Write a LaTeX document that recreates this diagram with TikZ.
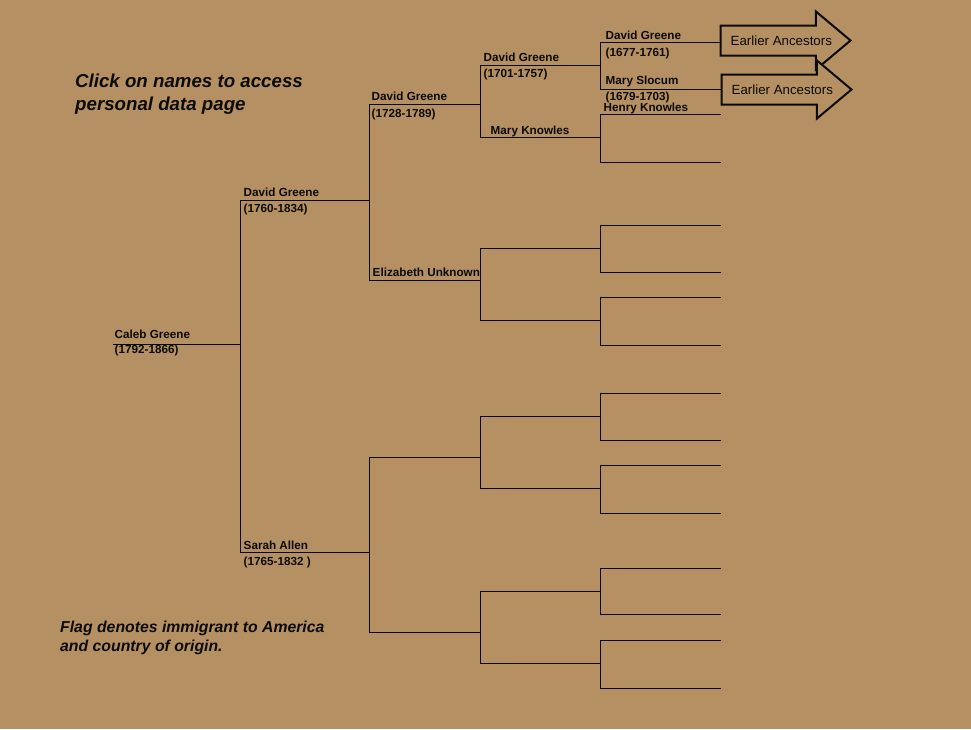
\documentclass[tikz,border=0pt]{standalone}
\usepackage{fontspec}
\setmainfont{Liberation Sans}
\usepackage{xcolor}
\usetikzlibrary{shapes.arrows}
\definecolor{parch}{HTML}{B49062}
\definecolor{ink}{HTML}{0C0A05}
\tikzset{
  pline/.style={draw=ink,line width=1.1pt},
  pname/.style={anchor=base west,inner sep=0pt,text=ink,font=\bfseries\fontsize{11.7}{14}\selectfont},
  pdates/.style={pname},
  note/.style={anchor=base west,inner sep=0pt,text=ink,font=\bfseries\itshape\fontsize{15.8}{19}\selectfont},
  title/.style={note,font=\bfseries\itshape\fontsize{18.7}{22}\selectfont},
  anc/.style={shape=single arrow,draw=ink,line width=2pt,fill=parch,anchor=tail,
    minimum height=130pt,inner xsep=0pt,inner ysep=14pt,
    single arrow head extend=14pt,single arrow tip angle=80},
  anctext/.style={anchor=base west,inner sep=0pt,text=ink,font=\fontsize{13.3}{16}\selectfont},
}
\begin{document}
\begin{tikzpicture}[x=1pt,y=-1pt]
  \fill[parch] (0,0) rectangle (971,729);
  % one line per person, numbered as in an ahnentafel
  \foreach \k/\y in {1/344}{\coordinate (s\k) at (112.5,\y.5); \coordinate (e\k) at (240.5,\y.5);}
  \foreach \k/\y in {2/200,3/552}{\coordinate (s\k) at (240.5,\y.5); \coordinate (e\k) at (369.5,\y.5);}
  \foreach \k/\y in {4/104,5/280,6/457,7/632}{\coordinate (s\k) at (369.5,\y.5); \coordinate (e\k) at (480.5,\y.5);}
  \foreach \k/\y in {8/65,9/137,10/248,11/320,12/416,13/488,14/591,15/663}{
     \coordinate (s\k) at (480.5,\y.5); \coordinate (e\k) at (600.5,\y.5);}
  \foreach \k/\y in {16/42,17/89,18/114,19/162,20/225,21/272,22/297,23/345,
                     24/393,25/440,26/465,27/513,28/568,29/614,30/640,31/688}{
     \coordinate (s\k) at (600.5,\y.5); \coordinate (e\k) at (720.5,\y.5);}
  \draw[pline] (s1) -- (e1);
  \foreach \k [evaluate=\k as \f using int(2*\k), evaluate=\k as \m using int(2*\k+1)] in {1,...,15}
     \draw[pline] (e\f) -- (s\f) -- (s\m) -- (e\m);
  % names and dates
  \node[pname]  (n1) at ([shift={(2,-6)}]s1) {Caleb Greene};
  \node[pdates] (d1) at ([shift={(2,9)}]s1) {(1792-1866)};
  \node[pname]  (n2) at ([shift={(3,-4.5)}]s2) {David Greene};
  \node[pdates] (d2) at ([shift={(3,12)}]s2) {(1760-1834)};
  \node[pname]  (n3) at ([shift={(3,-3.5)}]s3) {Sarah Allen};
  \node[pdates] (d3) at ([shift={(3,12.5)}]s3) {(1765-1832 )};
  \node[pname]  (n4) at ([shift={(2,-3.6)}]s4) {David Greene};
  \node[pdates] (d4) at ([shift={(2,13)}]s4) {(1728-1789)};
  \node[pname]  (n5) at ([shift={(3,-4)}]s5) {Elizabeth Unknown};
  \node[pname]  (n8) at ([shift={(3,-4.3)}]s8) {David Greene};
  \node[pdates] (d8) at ([shift={(3,11.7)}]s8) {(1701-1757)};
  \node[pname]  (n9) at ([shift={(10,-3)}]s9) {Mary Knowles};
  \node[pname]  (n16) at ([shift={(5,-3.5)}]s16) {David Greene};
  \node[pdates] (d16) at ([shift={(5,14)}]s16) {(1677-1761)};
  \node[pname]  (n17) at ([shift={(5,-5)}]s17) {Mary Slocum};
  \node[pdates] (d17) at ([shift={(5,11)}]s17) {(1679-1703)};
  \node[pname]  (n18) at ([shift={(3,-3)}]s18) {Henry Knowles};
  % earlier ancestors
  \node[anc] (a16) at ([shift={(-1,-2)}]e16) {};
  \node[anc] (a17) at ([shift={(0,0)}]e17) {};
  \node[anctext] (t16) at ([shift={(11,5)}]a16.tail) {Earlier Ancestors};
  \node[anctext] (t17) at ([shift={(11,5)}]a17.tail) {Earlier Ancestors};
  % notes
  \node[title] (click1) at (75,87) {Click on names to access};
  \node[title] (click2) at (75,110) {personal data page};
  \node[note] (flag1) at (60,632) {Flag denotes immigrant to America};
  \node[note] (flag2) at (60,651) {and country of origin.};
\end{tikzpicture}
\end{document}
